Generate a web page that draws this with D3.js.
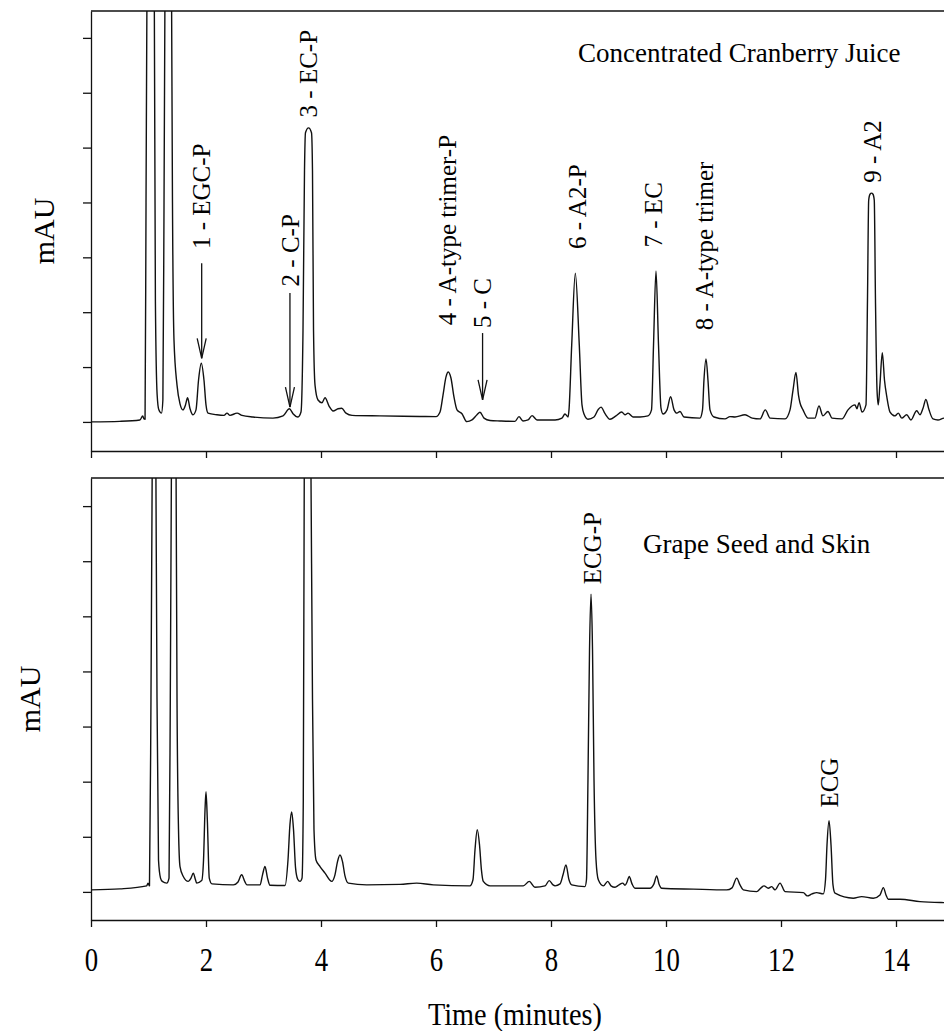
<!DOCTYPE html>
<html>
<head>
<meta charset="utf-8">
<script src="https://cdn.jsdelivr.net/npm/d3@7"></script>
<style>
    body { margin: 0; background: #fff; }
    svg { display: block; }
    text { font-family: 'Liberation Serif', 'Times New Roman', serif; fill: #000; }
</style>
</head>
<body>
<div id="chart"></div>
<script>
// Chromatogram traces: time (min) and absorbance (mAU, arbitrary units)
// Peaks that run off the top of the panel are given a value above the axis and get clipped.
const cranTime = [
    0.00, 0.50, 0.85, 0.90, 0.92, 0.94, 0.957, 0.974, 1.035, 1.10, 1.12, 1.15, 1.18, 1.226,
    1.25, 1.27, 1.287, 1.34, 1.40, 1.417, 1.443, 1.496, 1.548, 1.60, 1.643, 1.68, 1.72, 1.774,
    1.826, 1.87, 1.918, 1.965, 2.00, 2.035, 2.19, 2.313, 2.365, 2.417, 2.54, 2.626, 2.817, 3.165,
    3.34, 3.45, 3.513, 3.60, 3.652, 3.687, 3.713, 3.73, 3.783, 3.835, 3.852, 3.87, 3.896, 3.948,
    4.017, 4.07, 4.14, 4.21, 4.296, 4.36, 4.435, 4.54, 5.026, 5.72, 6.00, 6.07, 6.122, 6.174,
    6.214, 6.26, 6.313, 6.365, 6.452, 6.535, 6.626, 6.713, 6.765, 6.835, 6.94, 7.113, 7.374, 7.443,
    7.513, 7.60, 7.67, 7.757, 8.07, 8.19, 8.243, 8.296, 8.313, 8.36, 8.423, 8.492, 8.539, 8.574,
    8.643, 8.748, 8.817, 8.87, 8.94, 9.026, 9.13, 9.23, 9.287, 9.34, 9.426, 9.548, 9.687, 9.748,
    9.783, 9.826, 9.87, 9.913, 9.948, 10.017, 10.08, 10.14, 10.19, 10.243, 10.313, 10.59, 10.635, 10.66,
    10.696, 10.73, 10.765, 10.835, 11.026, 11.113, 11.20, 11.374, 11.50, 11.635, 11.727, 11.81, 12.07, 12.157,
    12.209, 12.26, 12.304, 12.33, 12.383, 12.47, 12.59, 12.66, 12.73, 12.817, 12.887, 13.06, 13.165, 13.235,
    13.287, 13.32, 13.357, 13.41, 13.478, 13.504, 13.525, 13.548, 13.574, 13.60, 13.622, 13.643, 13.67, 13.692,
    13.72, 13.762, 13.80, 13.84, 13.896, 13.983, 14.04, 14.10, 14.186, 14.26, 14.36, 14.417, 14.47, 14.52,
    14.574, 14.643, 14.73, 14.835, 15.11
];
const cranAbs = [
    0.0, 0.1, 0.35, 1.1, 0.55, 0.5, 40, 80, 130, 80, 22, 5, 2.2, 1.6,
    4, 40, 80, 140, 80, 40, 15, 6.7, 3.3, 2.2, 3.1, 4.4, 2.5, 1.3,
    2.2, 7.6, 10.7, 7.6, 3.1, 1.6, 1.3, 1.2, 1.6, 1.2, 1.6, 1.2, 0.9, 0.7,
    1.1, 2.4, 1.5, 0.9, 1.8, 16.7, 45.8, 52.7, 53.6, 52.7, 45.8, 16.7, 6.7, 4.0,
    3.5, 4.4, 2.9, 2.0, 2.4, 2.5, 1.6, 1.2, 1.1, 1.0, 0.96, 1.8, 4.9, 8.2,
    9.1, 8.0, 4.5, 2.2, 1.5, 0.05, 0.36, 1.3, 1.76, 0.7, 0.27, 0.18, 0.1, 0.96,
    0.18, 0.36, 1.15, 0.36, 0.36, 0.7, 1.45, 0.9, 2.2, 14, 27.1, 14, 3.1, 1.45,
    0.5, 0.9, 2.2, 2.7, 1.5, 0.5, 1.1, 1.8, 1.3, 1.6, 0.9, 0.9, 1.1, 2.2,
    14, 27.5, 14, 2.5, 1.45, 2.2, 4.6, 2.2, 1.6, 1.9, 0.9, 0.7, 2.2, 7.6,
    11.5, 7.6, 2.2, 0.9, 0.55, 0.96, 0.9, 1.3, 0.7, 0.55, 2.2, 0.7, 0.55, 2.2,
    5.8, 9.0, 4.9, 3.5, 2.2, 0.7, 0.7, 2.9, 1.1, 1.9, 0.7, 0.55, 2.2, 2.9,
    3.1, 2.4, 3.5, 1.8, 3.1, 22.2, 40.4, 41.5, 41.7, 41.5, 40.4, 22.2, 5.8, 3.1,
    6.7, 12.6, 7.6, 4.6, 1.8, 1.1, 1.6, 0.7, 1.3, 0.36, 2.05, 1.3, 2.5, 4.1,
    2.2, 0.55, 0.36, 0.7, 0.5
];

const grapeTime = [
    0.00, 0.504, 0.969, 0.991, 1.017, 1.043, 1.066, 1.096, 1.127, 1.148, 1.174, 1.209, 1.24, 1.317,
    1.357, 1.379, 1.40, 1.438, 1.478, 1.496, 1.522, 1.548, 1.605, 1.692, 1.739, 1.779, 1.817, 1.838,
    1.925, 1.957, 1.983, 2.00, 2.023, 2.057, 2.104, 2.475, 2.557, 2.62, 2.678, 2.713, 2.94, 2.983,
    3.026, 3.07, 3.113, 3.374, 3.426, 3.46, 3.49, 3.522, 3.557, 3.595, 3.635, 3.67, 3.692, 3.71,
    3.765, 3.823, 3.852, 3.878, 3.913, 3.983, 4.07, 4.186, 4.243, 4.287, 4.33, 4.374, 4.417, 4.475,
    4.795, 5.374, 5.664, 5.953, 6.59, 6.643, 6.678, 6.718, 6.757, 6.79, 6.823, 6.94, 7.518, 7.623,
    7.72, 7.896, 7.97, 8.035, 8.07, 8.157, 8.209, 8.26, 8.313, 8.36, 8.59, 8.617, 8.643, 8.67,
    8.696, 8.722, 8.748, 8.783, 8.823, 8.91, 8.987, 9.043, 9.113, 9.183, 9.247, 9.287, 9.322, 9.36,
    9.409, 9.46, 9.72, 9.79, 9.838, 9.878, 9.925, 10.475, 11.056, 11.148, 11.23, 11.287, 11.344, 11.577,
    11.652, 11.704, 11.779, 11.838, 11.896, 11.983, 12.07, 12.388, 12.457, 12.54, 12.62, 12.736, 12.774, 12.80,
    12.835, 12.87, 12.904, 12.94, 13.257, 13.403, 13.605, 13.722, 13.78, 13.826, 13.866, 14.07, 14.417, 14.835,
    15.11
];
const grapeAbs = [
    0.36, 0.55, 1.1, 1.6, 1.1, 35, 80, 140, 80, 35, 5.8, 2.5, 1.9, 1.6,
    2.5, 35, 80, 140, 80, 35, 11.3, 4.6, 2.8, 1.9, 2.5, 3.4, 2.2, 1.6,
    2.05, 5.8, 14.9, 18.2, 13.1, 2.5, 1.45, 1.27, 1.8, 3.1, 1.8, 1.27, 1.27, 3.1,
    4.6, 2.5, 1.2, 1.15, 5.8, 12.2, 14.5, 11.3, 4.4, 2.3, 1.9, 2.5, 16.7, 80,
    140, 80, 35, 11.3, 5.8, 4.6, 3.4, 1.9, 3.1, 5.5, 6.7, 5.5, 2.9, 1.6,
    1.27, 1.36, 1.6, 1.27, 1.1, 2.2, 7.6, 11.3, 8.5, 4.0, 1.9, 1.1, 1.1, 1.9,
    0.85, 1.1, 2.05, 1.27, 1.1, 1.45, 3.1, 4.9, 2.2, 1.27, 0.96, 2.2, 20.4, 44,
    54, 44, 20.4, 5.8, 2.2, 1.1, 1.9, 1.1, 0.85, 1.27, 1.6, 1.2, 1.8, 2.8,
    1.45, 0.67, 0.67, 1.45, 2.9, 1.45, 0.67, 0.5, 0.36, 0.73, 2.5, 1.27, 0.36, 0.05,
    0.73, 1.1, 0.67, 0.96, 0.36, 1.6, 0.05, -0.13, -0.73, -0.36, -0.13, -0.36, 2.2, 8.5,
    12.9, 8.5, 1.27, -0.24, -1.15, -0.85, -1.15, -0.55, 0.78, -0.55, -1.33, -1.33, -1.76, -1.95,
    -2.0
];

const xTicks = [0, 2, 4, 6, 8, 10, 12, 14];
const yTicks = [0, 10, 20, 30, 40, 50, 60, 70];

// Peak annotations: label, retention time, mAU where the label starts, optional arrow [from, to]
const cranLabels = ['1 - EGC-P', '2 - C-P', '3 - EC-P', '4 - A-type trimer-P', '5 - C',
    '6 - A2-P', '7 - EC', '8 - A-type trimer', '9 - A2'];
const cranLabelTime = [1.925, 3.46, 3.77, 6.19, 6.81, 8.46, 9.78, 10.66, 13.58];
const cranLabelAt = [31.5, 24.7, 55.5, 17.6, 17.1, 31.5, 31.8, 16.7, 43.6];
const cranArrows = [[28.9, 11.6], [23.5, 2.7], null, null, [16.2, 4.0], null, null, null, null];

const grapeLabels = ['ECG-P', 'ECG'];
const grapeLabelTime = [8.71, 12.84];
const grapeLabelAt = [55.8, 15.3];
const grapeArrows = [null, null];

const W = 944, H = 1031;
const left = 91, xRight = 1011;   // plot box runs past the right edge of the picture

const svg = d3.select('#chart').append('svg')
    .attr('width', W)
    .attr('height', H)
    .style('overflow', 'hidden');

const x = d3.scaleLinear().domain([0, 16]).range([left, xRight]);

function drawPanel(opts) {
    const y = d3.scaleLinear().domain(opts.yDomain).range([opts.bottom, opts.top]);
    const g = svg.append('g');

    g.append('clipPath')
        .attr('id', opts.id)
        .append('rect')
        .attr('x', left).attr('y', opts.top)
        .attr('width', xRight - left).attr('height', opts.bottom - opts.top);

    const pts = opts.time.map((t, i) => [t, opts.abs[i]]);
    const line = d3.line()
        .x(d => x(d[0]))
        .y(d => y(d[1]))
        .curve(d3.curveMonotoneX);

    g.append('path')
        .datum(pts)
        .attr('clip-path', `url(#${opts.id})`)
        .attr('d', line)
        .attr('fill', 'none')
        .attr('stroke', '#111')
        .attr('stroke-width', 1.4)
        .attr('stroke-linejoin', 'round');

    // Frame: top border + axes
    g.append('line')
        .attr('x1', left).attr('x2', xRight)
        .attr('y1', opts.top).attr('y2', opts.top)
        .attr('stroke', '#111').attr('stroke-width', 1.3);

    const yAxis = g.append('g')
        .attr('transform', `translate(${left},0)`)
        .call(d3.axisLeft(y).tickValues(yTicks).tickSize(8).tickSizeOuter(0).tickFormat(''));

    const xAxis = g.append('g')
        .attr('transform', `translate(0,${opts.bottom})`)
        .call(d3.axisBottom(x).tickValues(xTicks).tickSize(7).tickSizeOuter(0)
            .tickPadding(20)
            .tickFormat(opts.showLabels ? d3.format('d') : ''));

    [yAxis, xAxis].forEach(a => {
        a.select('.domain').attr('stroke', '#111').attr('stroke-width', 1.3);
        a.selectAll('.tick line').attr('stroke', '#111').attr('stroke-width', 1.3);
    });

    if (opts.showLabels) {
        xAxis.selectAll('.tick text')
            .attr('font-family', "'Liberation Serif', 'Times New Roman', serif")
            .attr('font-size', 34)
            .attr('fill', '#000')
            .attr('textLength', d => String(d).length * 13.4)
            .attr('lengthAdjust', 'spacingAndGlyphs');
    }

    // Peak labels (rotated) and arrows
    opts.labels.forEach((lab, i) => {
        const px = x(opts.labelTime[i]);
        g.append('text')
            .attr('transform', `translate(${px},${y(opts.labelAt[i])}) rotate(-90)`)
            .attr('dy', '0.35em')
            .attr('font-size', 25)
            .text(lab);

        const arr = opts.arrows[i];
        if (arr) {
            const y1 = y(arr[0]), y2 = y(arr[1]);
            g.append('line')
                .attr('x1', px).attr('x2', px)
                .attr('y1', y1).attr('y2', y2)
                .attr('stroke', '#111').attr('stroke-width', 1.3);
            g.append('path')
                .attr('d', `M${px - 4.5},${y2 - 20}L${px},${y2}L${px + 4.5},${y2 - 20}`)
                .attr('fill', 'none')
                .attr('stroke', '#111').attr('stroke-width', 1.3);
        }
    });

    // Sample name
    g.append('text')
        .attr('x', opts.titleX).attr('y', opts.titleY)
        .attr('font-size', 27)
        .text(opts.title);

    // mAU label
    g.append('text')
        .attr('transform', `translate(${opts.mauX},${(opts.top + opts.bottom) / 2}) rotate(-90)`)
        .attr('text-anchor', 'middle')
        .attr('font-size', 30)
        .text('mAU');
}

drawPanel({
    id: 'clip-cran', top: 11, bottom: 451, yDomain: [-5.3, 74.9],
    time: cranTime, abs: cranAbs,
    labels: cranLabels, labelTime: cranLabelTime, labelAt: cranLabelAt, arrows: cranArrows,
    title: 'Concentrated Cranberry Juice', titleX: 578, titleY: 62,
    mauX: 54, showLabels: false
});

drawPanel({
    id: 'clip-grape', top: 478, bottom: 920, yDomain: [-5.1, 75.1],
    time: grapeTime, abs: grapeAbs,
    labels: grapeLabels, labelTime: grapeLabelTime, labelAt: grapeLabelAt, arrows: grapeArrows,
    title: 'Grape Seed and Skin', titleX: 643, titleY: 553,
    mauX: 40, showLabels: true
});

// x axis title
svg.append('text')
    .attr('x', 515).attr('y', 1025)
    .attr('text-anchor', 'middle')
    .attr('font-size', 31)
    .attr('textLength', 174)
    .attr('lengthAdjust', 'spacingAndGlyphs')
    .text('Time (minutes)');
</script>
</body>
</html>
